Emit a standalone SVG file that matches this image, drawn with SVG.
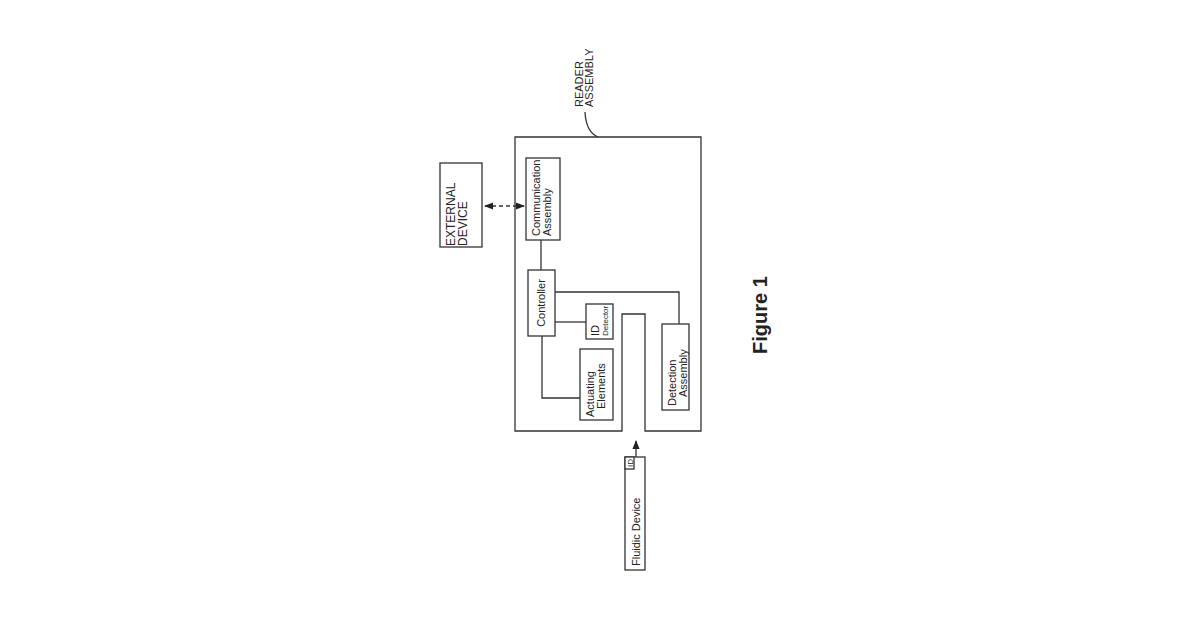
<svg xmlns="http://www.w3.org/2000/svg" width="1200" height="630" viewBox="0 0 1200 630">
<style>
.b{fill:#fff;stroke:#333;stroke-width:1.3}
.l{fill:none;stroke:#333;stroke-width:1.3}
text{font-family:"Liberation Sans",Arial,sans-serif;font-size:11px;fill:#222}
</style>
<defs><marker id="a" viewBox="0 0 10 10" refX="9" refY="5" markerWidth="7" markerHeight="7" orient="auto-start-reverse"><path d="M0,1 L10,5 L0,9 Z" fill="#222"/></marker></defs>
<rect width="1200" height="630" fill="#fff"/>
<g id="reader"><path class="b" d="M515,137 H701 V431 H645 V314 H622 V431 H515 Z"/>
<text transform="rotate(-90 583 107)" x="583" y="107">READER<tspan x="583" dy="10">ASSEMBLY</tspan></text></g>
<g id="external"><rect class="b" x="440" y="163" width="42" height="84"/>
<text transform="rotate(-90 455 246)" x="455" y="246" style="font-size:12px">EXTERNAL<tspan x="455" dy="12">DEVICE</tspan></text></g>
<g id="comm"><rect class="b" x="526" y="158" width="34" height="82"/>
<text transform="rotate(-90 540 236)" x="540" y="236">Communication<tspan x="540" dy="11">Assembly</tspan></text></g>
<g id="controller"><rect class="b" x="528" y="270" width="27" height="66"/>
<text transform="rotate(-90 545 303)" x="545" y="303" text-anchor="middle">Controller</text></g>
<g id="iddet"><rect class="b" x="586" y="304" width="27" height="35"/>
<text transform="rotate(-90 599 336)" x="599" y="336">ID<tspan x="599" dy="9" style="font-size:8px">Detector</tspan></text></g>
<g id="actuating"><rect class="b" x="580" y="349" width="33" height="71"/>
<text transform="rotate(-90 594 417)" x="594" y="417">Actuating<tspan x="602" dy="11">Elements</tspan></text></g>
<g id="detection"><rect class="b" x="662" y="324" width="27" height="86"/>
<text transform="rotate(-90 676 406)" x="676" y="406">Detection<tspan x="685" dy="11">Assembly</tspan></text></g>
<g id="fluidic"><rect class="b" x="625" y="457" width="20" height="113"/>
<rect class="b" x="625" y="457" width="9" height="12"/>
<text transform="rotate(-90 633 467)" x="633" y="467" style="font-size:8px">ID</text>
<text transform="rotate(-90 640 566)" x="640" y="566">Fluidic Device</text></g>
<text transform="rotate(-90 767 315)" x="767" y="315" text-anchor="middle" style="font-size:20px;font-weight:bold">Figure 1</text>
<g id="connectors">
<path class="l" d="M585,112 Q586,132 598,137"/>
<line class="l" x1="485" y1="206" x2="524" y2="206" stroke-dasharray="4,3" stroke-width="2" marker-start="url(#a)" marker-end="url(#a)"/>
<line class="l" x1="541" y1="240" x2="541" y2="270"/>
<path class="l" d="M555,292 H679 V324"/>
<line class="l" x1="555" y1="322" x2="586" y2="322"/>
<path class="l" d="M542,336 V398 H580"/>
<line class="l" x1="636" y1="457" x2="636" y2="441" marker-end="url(#a)"/>
</g>
</svg>
